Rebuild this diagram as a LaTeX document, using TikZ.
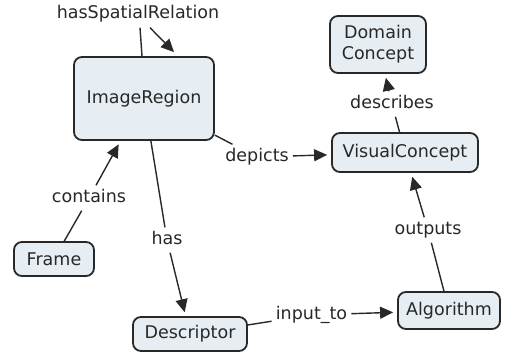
\documentclass[tikz,border=0pt]{standalone}
\usepackage{fontspec}
\setmainfont{DejaVu Sans}
\usetikzlibrary{arrows.meta}
\definecolor{boxfill}{RGB}{230,238,243}
\definecolor{ink}{RGB}{40,40,40}
\begin{document}
\begin{tikzpicture}[x=1pt,y=1pt,
  concept/.style={draw=ink, line width=1.8pt, fill=boxfill, rounded corners=8pt,
    text=ink, font=\fontsize{17.5}{21}\selectfont, align=center, inner sep=0pt},
  linkword/.style={text=ink, font=\fontsize{17.5}{21}\selectfont, inner sep=4pt,
    text height=13pt, text depth=4pt},
  link/.style={draw=ink, line width=1.4pt},
  tip/.style={-{Triangle[length=13pt,width=12pt]}},
  arrowlink/.style={link, tip, shorten >=4pt},
]
\useasboundingbox[fill=white] (0,0) rectangle (505,-356);

% concepts
\node[concept, minimum width=140pt, minimum height=83pt] (ir) at (144,-98.5) {ImageRegion};
\node[concept, minimum width=96pt, minimum height=57pt] (dc) at (378,-44.5) {Domain\\Concept};
\node[concept, minimum width=146pt, minimum height=39pt] (vc) at (405,-152.5) {VisualConcept};
\node[concept, minimum width=80pt, minimum height=34pt] (fr) at (54,-259) {Frame};
\node[concept, minimum width=114pt, minimum height=34pt] (de) at (190,-334) {Descriptor};
\node[concept, minimum width=102pt, minimum height=37pt] (al) at (449,-310.5) {Algorithm};

% linking words
\node[linkword] (lhs) at (138,-14) {hasSpatialRelation};
\node[linkword] (ldesc) at (392,-104) {describes};
\node[linkword] (ldep) at (257,-157) {depicts};
\node[linkword] (lcon) at (89,-198) {contains};
\node[linkword] (lhas) at (167,-240) {has};
\node[linkword] (linp) at (311.5,-315) {input\_to};
\node[linkword] (lout) at (428,-230) {outputs};

% connections
\draw[link] ([xshift=-2pt]ir.north) -- ([xshift=2pt,yshift=-1pt]lhs.south);
\draw[link, tip] ([xshift=12pt,yshift=-1pt]lhs.south) -- ([xshift=30pt,yshift=4pt]ir.north);

\draw[link] (ir) -- (ldep);
\draw[arrowlink] (ldep) -- (vc);

\draw[link] (vc) -- (ldesc);
\draw[arrowlink] (ldesc) -- (dc);

\draw[link] (fr) -- (lcon);
\draw[arrowlink] (lcon) -- (ir);

\draw[link] (ir) -- (lhas);
\draw[arrowlink] (lhas) -- (de);

\draw[link] (de) -- (linp);
\draw[arrowlink] (linp) -- (al);

\draw[link] (al) -- (lout);
\draw[arrowlink] (lout) -- (vc);
\end{tikzpicture}
\end{document}
